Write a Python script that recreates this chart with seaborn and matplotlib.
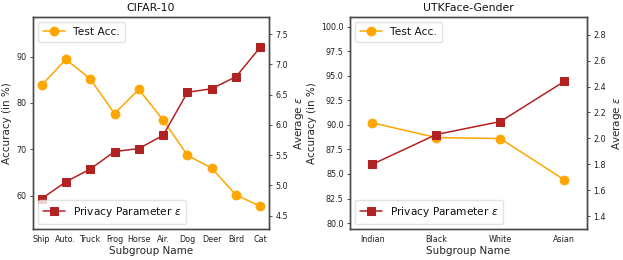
import numpy as np
import pandas as pd
import matplotlib
matplotlib.use("Agg")
import matplotlib.pyplot as plt
import seaborn as sns

cifar_groups = ["Ship", "Auto.", "Truck", "Frog", "Horse", "Air.", "Dog", "Deer", "Bird", "Cat"]
cifar_acc = [83.8, 89.4, 85.2, 77.7, 82.9, 76.3, 68.7, 65.9, 60.1, 57.7]
cifar_eps = [4.78, 5.06, 5.27, 5.56, 5.61, 5.83, 6.54, 6.60, 6.80, 7.29]

utk_groups = ["Indian", "Black", "White", "Asian"]
utk_acc = [90.2, 88.7, 88.6, 84.4]
utk_eps = [1.80, 2.03, 2.13, 2.44]

sns.set_style("white")
plt.rcParams["font.family"] = ["DejaVu Sans"]
plt.rcParams["axes.edgecolor"] = "#4a4a4a"
plt.rcParams["text.color"] = "#111111"
plt.rcParams["xtick.color"] = "#4a4a4a"
plt.rcParams["ytick.color"] = "#4a4a4a"
plt.rcParams["xtick.labelcolor"] = "#222222"
plt.rcParams["ytick.labelcolor"] = "#222222"

ORANGE = "#FFA500"
RED = "#B22222"

fig = plt.figure(figsize=(6.23, 2.6), dpi=100)
ax1 = fig.add_axes([33/623, 1 - 229/260, (269-33)/623, (229-16.7)/260])
ax2 = fig.add_axes([350/623, 1 - 229/260, (586.7-350)/623, (229-16.7)/260])

TICK_FS = 5.8
LABEL_FS = 7.5
LEG_FS = 7.7
TITLE_FS = 7.8


def panel(ax, groups, acc, eps, title, ylim_l, ylim_r, yticks_l, yticks_r, fmt_l):
    df = pd.DataFrame({"group": groups, "acc": acc, "eps": eps, "x": np.arange(len(groups))})
    sns.lineplot(data=df, x="x", y="acc", ax=ax, color=ORANGE, marker="o",
                 markersize=6.3, markeredgecolor=ORANGE, linewidth=1.1, label="Test Acc.")
    axr = ax.twinx()
    sns.lineplot(data=df, x="x", y="eps", ax=axr, color=RED, marker="s",
                 markersize=6.3, markeredgecolor=RED, linewidth=1.1,
                 label=r"Privacy Parameter $\epsilon$")
    ax.set_xticks(df["x"])
    ax.set_xticklabels(groups, fontsize=TICK_FS)
    ax.set_xlim(-0.35, len(groups) - 1 + 0.35)
    ax.set_ylim(*ylim_l)
    axr.set_ylim(*ylim_r)
    ax.set_yticks(yticks_l)
    ax.set_yticklabels([fmt_l.format(v) for v in yticks_l], fontsize=TICK_FS)
    axr.set_yticks(yticks_r)
    axr.set_yticklabels(["{:.1f}".format(v) for v in yticks_r], fontsize=TICK_FS)
    ax.set_xlabel("Subgroup Name", fontsize=LABEL_FS, labelpad=2)
    ax.set_ylabel("Accuracy (in %)", fontsize=LABEL_FS, labelpad=3)
    axr.set_ylabel(r"Average $\epsilon$", fontsize=LABEL_FS, labelpad=3)
    ax.set_title(title, fontsize=TITLE_FS, pad=4)
    for a in (ax, axr):
        a.tick_params(axis="both", length=2.5, width=0.7, pad=2)
        for s in a.spines.values():
            s.set_linewidth(1.0)
    ax.tick_params(axis="x", length=2)
    ax.legend(loc="upper left", fontsize=LEG_FS, frameon=True, borderpad=0.45,
              handlelength=2, edgecolor="#dddddd", fancybox=True)
    axr.legend(loc="lower left", fontsize=LEG_FS, frameon=True, borderpad=0.45,
               handlelength=2, edgecolor="#dddddd", fancybox=True)
    return axr


panel(ax1, cifar_groups, cifar_acc, cifar_eps, "CIFAR-10",
      (52.8, 98.6), (4.28, 7.79), [60, 70, 80, 90],
      [4.5, 5.0, 5.5, 6.0, 6.5, 7.0, 7.5], "{:d}")
panel(ax2, utk_groups, utk_acc, utk_eps, "UTKFace-Gender",
      (79.4, 101.0), (1.30, 2.94), [80.0, 82.5, 85.0, 87.5, 90.0, 92.5, 95.0, 97.5, 100.0],
      [1.4, 1.6, 1.8, 2.0, 2.2, 2.4, 2.6, 2.8], "{:.1f}")

fig.savefig("out.png", dpi=100)
